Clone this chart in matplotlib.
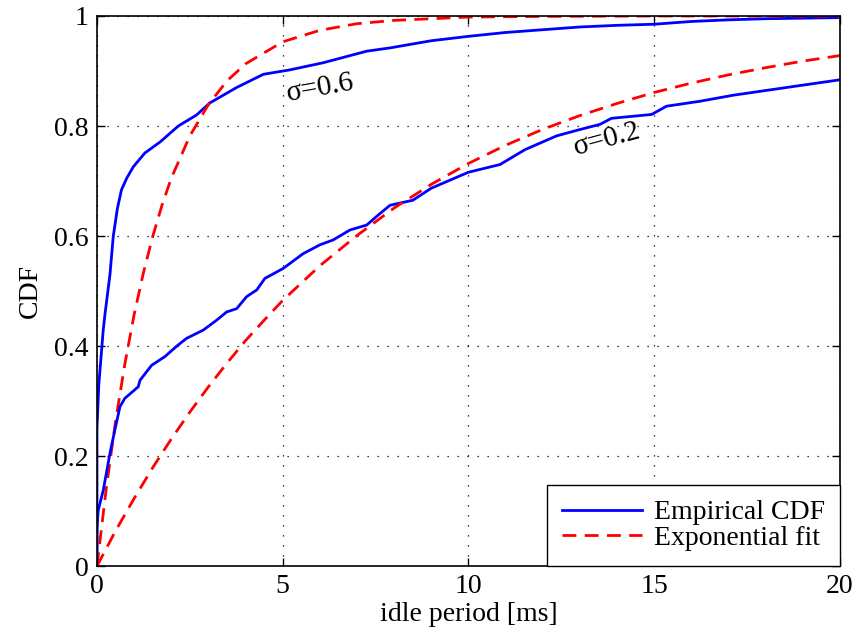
import numpy as np
import matplotlib
matplotlib.use("Agg")
import matplotlib.pyplot as plt

plt.rcParams['font.family'] = ['Liberation Serif', 'DejaVu Serif']
plt.rcParams['font.size'] = 20

# empirical CDF, sigma = 0.6
emp06_x = [0, 0, 0.05, 0.17, 0.22, 0.35, 0.44, 0.55, 0.66, 0.8, 0.98, 1.29, 1.70, 2.19,
           2.68, 3.04, 3.76, 4.48, 5.19, 6.09, 7.26, 7.89, 9, 10, 11, 12, 13, 14, 15,
           16, 17, 18, 19, 20]
emp06_y = [0, 0.25, 0.33, 0.43, 0.46, 0.53, 0.60, 0.65, 0.684, 0.705, 0.726, 0.751, 0.771,
           0.80, 0.82, 0.842, 0.87, 0.894, 0.902, 0.915, 0.936, 0.942, 0.955, 0.963, 0.970,
           0.975, 0.980, 0.983, 0.985, 0.990, 0.993, 0.995, 0.996, 0.997]

# exponential fit, sigma = 0.6
fit06_x = [0, 0.25, 0.5, 0.75, 1, 1.25, 1.5, 1.75, 2, 2.5, 3, 3.5, 4, 5, 6, 7, 8, 10, 12, 15, 20]
fit06_y = [0, 0.141, 0.263, 0.367, 0.457, 0.533, 0.599, 0.656, 0.705, 0.782, 0.839, 0.882,
           0.913, 0.953, 0.974, 0.986, 0.992, 0.998, 0.9993, 1.0, 1.0]

# empirical CDF, sigma = 0.2
emp02_x = [0, 0, 0.035, 0.17, 0.35, 0.48, 0.62, 0.75, 1.11, 1.16, 1.47, 1.83, 2.15, 2.41,
           2.86, 3.22, 3.49, 3.76, 4.03, 4.30, 4.52, 5.01, 5.55, 6.0, 6.36, 6.81, 7.26,
           7.62, 7.89, 8.5, 9, 10, 10.85, 11.52, 12.37, 12.91, 13.54, 13.85, 14.93, 15.33,
           16.23, 17.13, 18.56, 20]
emp02_y = [0, 0.07, 0.102, 0.138, 0.205, 0.247, 0.29, 0.305, 0.326, 0.338, 0.365, 0.381,
           0.40, 0.414, 0.429, 0.447, 0.462, 0.468, 0.49, 0.502, 0.523, 0.541, 0.568, 0.584,
           0.593, 0.611, 0.62, 0.641, 0.656, 0.665, 0.687, 0.716, 0.73, 0.757, 0.782, 0.792,
           0.803, 0.814, 0.821, 0.836, 0.845, 0.856, 0.87, 0.884]

# exponential fit, sigma = 0.2
fit02_x = [0, 0.5, 1, 1.5, 2, 2.5, 3, 3.5, 4, 4.5, 5, 6, 7, 8, 9, 10, 11, 12, 13, 14, 15,
           16, 17, 18, 19, 20]
fit02_y = [0, 0.064, 0.123, 0.179, 0.231, 0.28, 0.326, 0.369, 0.41, 0.447, 0.483, 0.546,
           0.601, 0.651, 0.694, 0.732, 0.765, 0.794, 0.819, 0.841, 0.861, 0.878, 0.893,
           0.906, 0.918, 0.928]

fig = plt.figure(figsize=(8.58, 6.39), dpi=100)
ax = fig.add_axes([0.113, 0.114, 0.866, 0.861])

dash = (5, 3)
ax.plot(emp06_x, emp06_y, '-', color='#0000ff', lw=2.0, label='Empirical CDF')
ax.plot(fit06_x, fit06_y, '--', color='#ff0000', lw=2.0, dashes=dash, label='Exponential fit')
ax.plot(emp02_x, emp02_y, '-', color='#0000ff', lw=2.0)
ax.plot(fit02_x, fit02_y, '--', color='#ff0000', lw=2.0, dashes=dash)

ax.text(6.0, 0.869, 'σ=0.6', fontsize=21, rotation=10, ha='center', va='center')
ax.text(13.73, 0.775, 'σ=0.2', fontsize=21, rotation=15, ha='center', va='center')

ax.set_xlim(0, 20)
ax.set_ylim(0, 1)
ax.set_xticks([0, 5, 10, 15, 20])
ax.set_yticks([0, 0.2, 0.4, 0.6, 0.8, 1])
ax.set_yticklabels(['0', '0.2', '0.4', '0.6', '0.8', '1'])
ax.tick_params(direction='in', top=True, right=True, length=6, width=1, pad=6)
ax.grid(True, color='black', linestyle=(0, (1, 7)), linewidth=0.9)
for s in ax.spines.values():
    s.set_linewidth(1.2)

ax.set_xlabel('idle period [ms]', labelpad=2)
ax.set_ylabel('CDF', labelpad=8)

leg = ax.legend(loc='lower right', fancybox=False, edgecolor='black', framealpha=1,
                handlelength=2.9, borderaxespad=0, borderpad=0.55, labelspacing=0.0,
                handletextpad=0.4, fontsize=20)
leg.get_frame().set_linewidth(1.0)

fig.savefig('out.png', dpi=100)
